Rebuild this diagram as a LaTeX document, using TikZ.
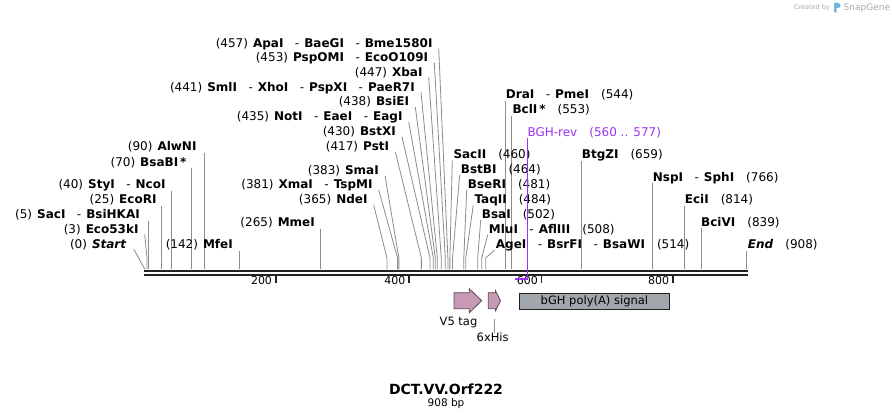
\documentclass[tikz,border=0pt]{standalone}
\usepackage{fontspec}
\setmainfont{DejaVu Sans}
\usetikzlibrary{calc}
\definecolor{conngray}{RGB}{140,140,140}
\definecolor{bbcol}{RGB}{34,34,34}
\definecolor{primercol}{RGB}{155,50,240}
\definecolor{featpink}{RGB}{201,152,180}
\definecolor{featline}{RGB}{90,72,84}
\definecolor{featgray}{RGB}{162,167,173}
\definecolor{logogray}{RGB}{170,170,170}
\definecolor{logoblue}{RGB}{110,180,230}
\newcommand{\B}[1]{\textbf{#1}}
\newcommand{\BI}[1]{\textbf{\textit{#1}}}
\newcommand{\sepd}{\hspace{11.5pt}-\hspace{5pt}}
\newcommand{\nb}{\hspace{5pt}}
\newcommand{\rgap}{\hspace{12pt}}
% left label: name, east x, row y, bp, text, mode (v = vertical, s = slanted)
\newcommand{\Lcut}[6]{%
  \pgfmathsetmacro\sitex{145+0.6628*#4}%
  \node[lab,anchor=base east] (#1) at (#2,#3+4) {#5};
  \coordinate (#1-k) at (\sitex,258);
  \coordinate (#1-b) at (\sitex,269.5);
  \ifx v#6
    \draw[cn] (\sitex,#3+6) -- (#1-b);
  \else
    \draw[cn] ($(#1.base east)+(6,1)$) -- (#1-k) -- (#1-b);
  \fi}
\newcommand{\Rcut}[6]{%
  \pgfmathsetmacro\sitex{145+0.6628*#4}%
  \node[lab,anchor=base west] (#1) at (#2,#3+4) {#5};
  \coordinate (#1-k) at (\sitex,258);
  \coordinate (#1-b) at (\sitex,269.5);
  \ifx v#6
    \draw[cn] (\sitex,#3+6) -- (#1-b);
  \else
    \draw[cn] ($(#1.base west)+(-1,1)$) -- (#1-k) -- (#1-b);
  \fi}
\tikzset{
  lab/.style={font=\fontsize{12}{14}\selectfont, inner sep=0pt, text=black},
  cn/.style={draw=conngray, line width=0.8pt},
  bbline/.style={draw=bbcol, line width=2.4pt},
  tickmark/.style={draw=bbcol, line width=1.8pt},
  ticklab/.style={font=\fontsize{11}{13}\selectfont, inner sep=0pt, anchor=base east},
  featarrow/.style={fill=featpink, draw=featline, line width=0.8pt},
  featbox/.style={fill=featgray, draw=bbcol, line width=0.8pt},
  featlab/.style={font=\fontsize{11.5}{13}\selectfont, inner sep=0pt}
}
\begin{document}
\begin{tikzpicture}[x=1pt,y=-1pt]
\useasboundingbox (0,0) rectangle (892,419);
\fill[white] (0,0) rectangle (892,419);

% backbone
\coordinate (bbL1) at (144,270.8); \coordinate (bbR1) at (748,270.8);
\coordinate (bbL2) at (144,274.9); \coordinate (bbR2) at (748,274.9);
\draw[bbline] (bbL1) -- (bbR1);
\draw[bbline] (bbL2) -- (bbR2);

% ticks
\foreach \tx/\tl in {275.7/200, 409/400, 541.5/600, 672.7/800}{
  \draw[tickmark] (\tx,276.5) -- (\tx,282.8);
  \node[ticklab] at (\tx-3.5,285) {\tl};
}

% left labels
\Lcut{apa}{432.7}{43.3}{457}{(457)\nb\B{ApaI}\sepd\B{BaeGI}\sepd\B{Bme1580I}}{s}
\Lcut{psp}{428.3}{57.6}{453}{(453)\nb\B{PspOMI}\sepd\B{EcoO109I}}{s}
\Lcut{xba}{422.7}{72.4}{447}{(447)\nb\B{XbaI}}{s}
\Lcut{sml}{415}{87.3}{441}{(441)\nb\B{SmlI}\sepd\B{XhoI}\sepd\B{PspXI}\sepd\B{PaeR7I}}{s}
\Lcut{bsie}{409.3}{102}{438}{(438)\nb\B{BsiEI}}{s}
\Lcut{noti}{402.7}{117}{435}{(435)\nb\B{NotI}\sepd\B{EaeI}\sepd\B{EagI}}{s}
\Lcut{bstx}{396}{131.8}{430}{(430)\nb\B{BstXI}}{s}
\Lcut{pst}{389.3}{146.7}{417}{(417)\nb\B{PstI}}{s}
\Lcut{alw}{196.7}{146.7}{90}{(90)\nb\B{AlwNI}}{v}
\Lcut{bsab}{186.7}{162.3}{70}{(70)\nb\B{BsaBI\,*}}{v}
\Lcut{sma}{379}{170.7}{383}{(383)\nb\B{SmaI}}{s}
\Lcut{sty}{165.7}{185}{40}{(40)\nb\B{StyI}\sepd\B{NcoI}}{v}
\Lcut{xma}{372.7}{185}{381}{(381)\nb\B{XmaI}\sepd\B{TspMI}}{s}
\Lcut{ecori}{156.7}{200}{25}{(25)\nb\B{EcoRI}}{v}
\Lcut{nde}{367.7}{200}{365}{(365)\nb\B{NdeI}}{s}
\Lcut{saci}{140}{215}{5}{(5)\nb\B{SacI}\sepd\B{BsiHKAI}}{v}
\Lcut{mme}{315}{222.7}{265}{(265)\nb\B{MmeI}}{v}
\Lcut{e53}{138.7}{229.3}{3}{(3)\nb\B{Eco53kI}}{s}
\Lcut{mfe}{233}{245}{142}{(142)\nb\B{MfeI}}{v}
\node[lab,anchor=base east] (start) at (126.7,249) {(0)\nb\BI{Start}};
\coordinate (start-b) at (145,269.5);
\draw[cn] ($(start.base east)+(7,0)$) -- (start-b);

% right labels
\Rcut{dra}{505.7}{95}{544}{\B{DraI}\sepd\B{PmeI}\rgap(544)}{v}
\Rcut{bcl}{512.3}{110}{553}{\B{BclI\,*}\rgap(553)}{v}
\Rcut{sac2}{453.3}{155}{460}{\B{SacII}\rgap(460)}{s}
\Rcut{btg}{581.7}{155}{659}{\B{BtgZI}\rgap(659)}{v}
\Rcut{bstb}{460.7}{170}{464}{\B{BstBI}\rgap(464)}{s}
\Rcut{nsp}{652.7}{177.3}{766}{\B{NspI}\sepd\B{SphI}\rgap(766)}{v}
\Rcut{bser}{467.7}{185}{481}{\B{BseRI}\rgap(481)}{s}
\Rcut{taq}{474.3}{200}{484}{\B{TaqII}\rgap(484)}{s}
\Rcut{eci}{684.7}{200}{814}{\B{EciI}\rgap(814)}{v}
\Rcut{bsa}{481.7}{215}{502}{\B{BsaI}\rgap(502)}{s}
\Rcut{bci}{701}{222.3}{839}{\B{BciVI}\rgap(839)}{v}
\Rcut{mlu}{488.7}{230}{508}{\B{MluI}\sepd\B{AflIII}\rgap(508)}{s}
\Rcut{age}{495.7}{245}{514}{\B{AgeI}\sepd\B{BsrFI}\sepd\B{BsaWI}\rgap(514)}{s}
\Rcut{endl}{747.7}{245}{908}{\BI{End}\rgap(908)}{v}

% primer BGH-rev
\node[lab,anchor=base west,text=primercol] (bgh) at (527.3,136.3) {BGH-rev\hspace{12pt}(560 .. 577)};
\coordinate (bgh-t) at (527.5,138);
\coordinate (bgh-b) at (527.5,278.7);
\coordinate (bgh-l) at (515.3,278.7);
\draw[draw=primercol, line width=0.9pt] (bgh-t) -- (bgh-b);
\draw[draw=primercol, line width=2pt] (bgh-l) -- ($(bgh-b)+(0.5,0)$);

% features
\draw[featarrow] (454,292.7) -- (469.3,292.7) -- (469.3,288.7) -- (481.7,300.7) -- (469.3,312.7) -- (469.3,308.7) -- (454,308.7) -- cycle;
\draw[featarrow] (488.3,292.7) -- (495.5,292.7) -- (495.5,290.8) -- (500.5,300.7) -- (495.5,310.6) -- (495.5,308.7) -- (488.3,308.7) -- cycle;
\node[featbox, minimum width=150pt, minimum height=16pt, inner sep=0pt, anchor=north west] (bgh-box) at (519,292.7) {};
\node[featlab] (bghtext) at (bgh-box.center) {bGH poly(A) signal};
\node[featlab] (v5) at (458.5,322.7) {V5 tag};
\node[featlab] (his) at (492.7,337.7) {6xHis};
\coordinate (his-a) at (494.3,319.3);
\draw[cn] (his-a) -- (his.north -| his-a);

% title
\node[inner sep=0pt, font=\fontsize{14}{16}\selectfont\bfseries] (title) at (446,389) {DCT.VV.Orf222};
\node[inner sep=0pt, font=\fontsize{10.5}{12}\selectfont] (len) at (446,403.5) {908 bp};

% logo
\node[inner sep=0pt, anchor=base east, text=logogray, font=\fontsize{6.5}{8}\selectfont] (created) at (830,9.5) {Created by};
\fill[logoblue] (834,3) -- (838,3) arc[start angle=90, end angle=-90, radius=2.5pt] -- (836.5,8) -- (836.5,13) -- (834,11.5) -- cycle;
\node[inner sep=0pt, anchor=base west, text=logogray, font=\fontsize{9}{10}\selectfont] (snap) at (843.5,10.5) {SnapGene};
\end{tikzpicture}
\end{document}
